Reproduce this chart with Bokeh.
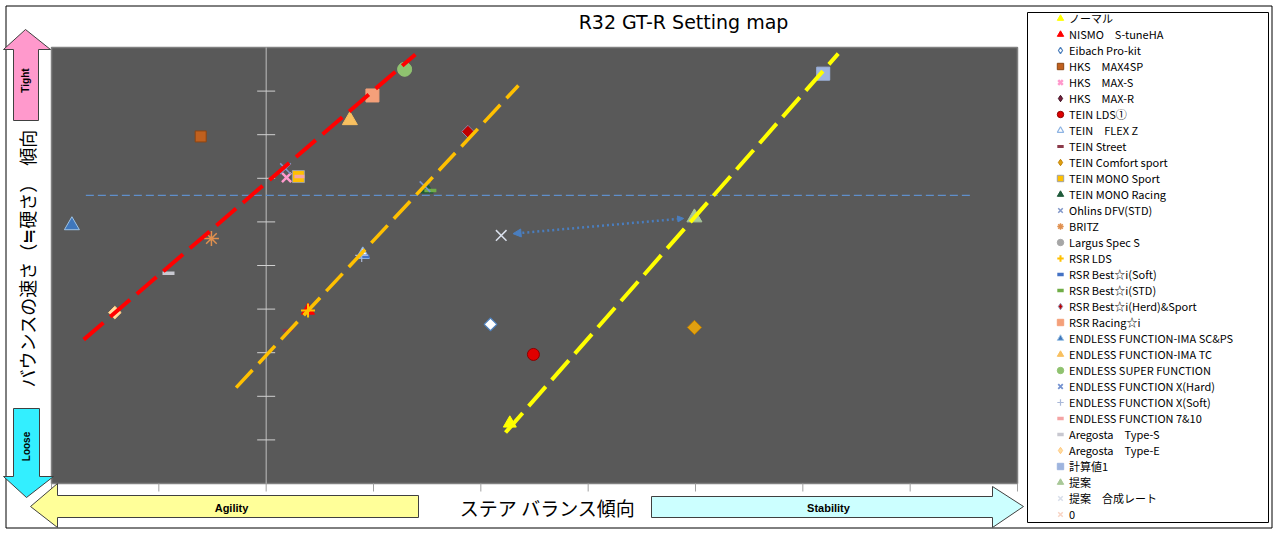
from bokeh.plotting import figure
from bokeh.models import Range1d, Arrow, NormalHead
from bokeh.core.properties import value
from bokeh.embed import file_html
from bokeh.resources import INLINE
import numpy as np

# ---------------- data ----------------
x_ticks = [-2, -1, 0, 1, 2, 3, 4, 5, 6, 7]
y_ticks = [0, 1, 2, 3, 4, 5, 6, 7, 8, 9, 10]

series_names = [
    "ノーマル", "NISMO　S-tuneHA", "Eibach Pro-kit", "HKS　MAX4SP", "HKS　MAX-S",
    "HKS　MAX-R", "TEIN LDS①", "TEIN　FLEX Z", "TEIN Street", "TEIN Comfort sport",
    "TEIN MONO Sport", "TEIN MONO Racing", "Ohlins DFV(STD)", "BRITZ", "Largus Spec S",
    "RSR LDS", "RSR Best☆i(Soft)", "RSR Best☆i(STD)", "RSR Best☆i(Herd)&Sport", "RSR Racing☆i",
    "ENDLESS FUNCTION-IMA SC&PS", "ENDLESS FUNCTION-IMA TC", "ENDLESS SUPER FUNCTION",
    "ENDLESS FUNCTION X(Hard)", "ENDLESS FUNCTION X(Soft)", "ENDLESS FUNCTION 7&10",
    "Aregosta　Type-S", "Aregosta　Type-E", "計算値1", "提案", "提案　合成レート", "0",
]
series_x = [2.27, 0.39, 2.09, -0.61, 0.19, 1.88, 2.49, 0.90, 0.20, 3.99,
            0.30, 1.50, 0.18, -0.51, 1.29, 0.39, 0.92, 1.53, 1.88, 0.99,
            -1.81, 0.78, 1.29, 1.48, 0.89, 0.31, -0.91, -1.41, 5.19, 3.99, 2.19, np.nan]
series_y = [1.38, 3.97, 3.65, 7.96, 7.02, 8.07, 2.96, 5.25, 3.51, 3.58,
            7.04, 6.74, 7.22, 5.62, 9.50, 3.97, 5.21, 6.72, 8.07, 8.90,
            5.92, 8.33, 9.50, 6.81, 5.23, 7.04, 4.82, 3.92, 9.40, 6.10, 5.69, np.nan]

red_line_x = [-1.70, 1.39]
red_line_y = [3.30, 9.84]
orange_line_x = [-0.28, 2.35]
orange_line_y = [2.20, 9.13]
yellow_line_x = [2.23, 5.33]
yellow_line_y = [1.17, 9.86]
ref_line_x = [-1.68, 6.56]
ref_line_y = [6.61, 6.61]
move_x = [3.89, 2.30]
move_y = [6.08, 5.73]

# ---------------- styles ----------------
D = "diamond"
markers = ["triangle", "triangle", D, "square", "x", D, "circle", "triangle", "dash", D,
           "square", "triangle", "x", "asterisk", "circle", "cross", "dash", "dash", D, "square",
           "triangle", "triangle", "circle", "x", "cross", "dash", "dash", D, "square", "triangle", "x", "x"]
fills = ["#FFFF00", "#FF0000", "#FFFFFF", "#C0601E", "#FF99CC", "#7A1F3D", "#E00000", "#FFFFFF", "#8B3A4A", "#E0A010",
         "#FFC000", "#1F5A3A", "#8096C8", "#E0904F", "#A6A6A6", "#FFC000", "#4472C4", "#70AD47", "#C00000", "#F4A07A",
         "#3F77BC", "#F8C060", "#8FC26F", "#7492D0", "#A9B8D8", "#F4A4A4", "#C8C8D0", "#FFDEA0", "#9EB4DE", "#A8C898",
         "#D8DEEA", "#F8D4C4"]
lines = ["#FFFF00", "#FF0000", "#4F81BD", "#8B4513", "#FF99CC", "#3A1020", "#8B0000", "#8EB4E3", "#8B3A4A", "#C08000",
         "#A0A0A0", "#1F5A3A", "#8096C8", "#E0904F", "#A6A6A6", "#FFC000", "#4472C4", "#70AD47", "#9090B0", "#F4A07A",
         "#9DC3E6", "#F8C060", "#8FC26F", "#7492D0", "#A9B8D8", "#F4A4A4", "#C8C8D0", "#FFC880", "#9EB4DE", "#A8C898",
         "#D8DEEA", "#F8D4C4"]
sizes = [13, 13, 9, 11, 13, 9, 12, 13, 10, 10,
         12, 12, 15, 15, 13, 14, 9, 12, 9, 13,
         15, 15, 14, 15, 13, 10, 12, 9, 13, 15, 15, 12]
widths = [1, 1, 1.2, 1, 2.5, 1, 1, 1.2, 3, 1,
          1, 1, 1.5, 1.5, 1, 2, 3.5, 3.5, 1, 1,
          1, 1, 1, 1.8, 1.2, 3.5, 3.5, 1, 1, 1, 1.5, 1.5]

# ---------------- layout mapping (canvas pixels -> data) ----------------
W, H = 1277, 534
SX = (1017 - 51) / 9.0
SY = (483 - 47) / 10.0
X0PAGE = 51 + 2 * SX


def px(v):
    return (v - X0PAGE) / SX


def py(v):
    return (483 - v) / SY


p = figure(width=W, height=H, x_range=Range1d(px(0), px(W)), y_range=Range1d(py(H), py(0)),
           x_axis_type=None, y_axis_type=None, toolbar_location=None, output_backend="svg", min_border=0)
p.outline_line_color = None
p.background_fill_color = "white"
p.border_fill_color = "white"

JP = value("Noto Sans CJK JP")

# outer border and legend box
p.quad(left=px(5.5), right=px(1271.5), top=py(5.5), bottom=py(527.5), fill_color=None, line_color="black", line_width=1)
p.quad(left=px(1027), right=px(1268), top=py(12), bottom=py(522), fill_color="white", line_color="black", line_width=1)

# plot area
p.quad(left=x_ticks[0], right=x_ticks[-1], bottom=y_ticks[0], top=y_ticks[-1],
       fill_color="#595959", line_color="#808080", line_width=1.5)

# vertical axis at x=0 with ticks
p.segment(x0=[0], y0=[y_ticks[0]], x1=[0], y1=[y_ticks[-1]], line_color="#BFBFBF", line_width=1)
p.segment(x0=[-9 / SX] * len(y_ticks[1:-1]), y0=y_ticks[1:-1], x1=[9 / SX] * len(y_ticks[1:-1]), y1=y_ticks[1:-1],
          line_color="#D0D0D0", line_width=1)
# bottom axis ticks
p.segment(x0=x_ticks, y0=[y_ticks[0]] * len(x_ticks), x1=x_ticks, y1=[y_ticks[0] - 8 / SY] * len(x_ticks),
          line_color="#A0A0A0", line_width=1)

# markers (diamonds drawn as rotated squares; legend uses a diamond proxy)
for i, name in enumerate(series_names):
    style = dict(fill_color=fills[i], line_color=lines[i], line_width=widths[i])
    if markers[i] == D:
        p.scatter([series_x[i]], [series_y[i]], marker="square", angle=np.pi / 4, size=sizes[i], **style)
        p.scatter([np.nan], [np.nan], marker="diamond", size=sizes[i], legend_label=name, **style)
    else:
        p.scatter([series_x[i]], [series_y[i]], marker=markers[i], size=sizes[i], legend_label=name, **style)

# reference and trend lines
p.line(ref_line_x, ref_line_y, line_color="#5F8FCB", line_width=1.3, line_dash="8 4")
p.line(red_line_x, red_line_y, line_color="#FF0000", line_width=4, line_dash="26 9")
p.line(orange_line_x, orange_line_y, line_color="#FFC000", line_width=3.5, line_dash="24 9")
p.line(yellow_line_x, yellow_line_y, line_color="#FFFF00", line_width=4, line_dash="26 9")
mc = "#4A7EBF"
p.add_layout(Arrow(end=NormalHead(size=8, fill_color=mc, line_color=mc),
                   start=NormalHead(size=6, fill_color=mc, line_color=mc),
                   x_start=move_x[0], y_start=move_y[0], x_end=move_x[1], y_end=move_y[1],
                   line_color=mc, line_width=2.5, line_dash="2 3"))


def arrow_patch(pts, fill):
    p.patch([px(a) for a, b in pts], [py(b) for a, b in pts], fill_color=fill, line_color="#404040", line_width=1)


arrow_patch([(25, 29), (50, 49), (38, 49), (38, 120), (13, 120), (13, 49), (3, 49)], "#FF99CC")
arrow_patch([(13, 408), (39, 408), (39, 476), (53, 476), (26, 497), (3, 476), (13, 476)], "#33EFFF")
arrow_patch([(30, 506), (57, 483), (57, 495), (418, 495), (418, 517), (57, 517), (57, 527)], "#FFFF99")
arrow_patch([(651, 496), (992, 496), (992, 486), (1023, 506), (992, 527), (992, 517), (651, 517)], "#CCFFFF")

# texts
p.text(x=[px(683)], y=[py(21)], text=["R32 GT-R Setting map"], text_font=value("DejaVu Sans"),
       text_font_size=value("19px"), text_align="center", text_baseline="middle", text_color="black")
p.text(x=[px(547)], y=[py(507)], text=["ステア バランス傾向"], text_font=JP, text_font_size=value("19px"),
       text_align="center", text_baseline="middle", text_color="black")
p.text(x=[px(26)], y=[py(258)], text=["バウンスの速さ（≒硬さ）　傾向"], text_font=JP, text_font_size=value("18px"),
       text_align="center", text_baseline="middle", text_color="black", angle=np.pi / 2)
BOLD = value("Liberation Sans")
p.text(x=[px(25)], y=[py(80)], text=["Tight"], text_font=BOLD, text_font_size=value("10px"), text_font_style="bold",
       text_align="center", text_baseline="middle", angle=np.pi / 2)
p.text(x=[px(26)], y=[py(446)], text=["Loose"], text_font=BOLD, text_font_size=value("10px"), text_font_style="bold",
       text_align="center", text_baseline="middle", angle=np.pi / 2)
p.text(x=[px(231)], y=[py(507)], text=["Agility"], text_font=BOLD, text_font_size=value("11px"), text_font_style="bold",
       text_align="center", text_baseline="middle")
p.text(x=[px(828)], y=[py(507)], text=["Stability"], text_font=BOLD, text_font_size=value("11px"), text_font_style="bold",
       text_align="center", text_baseline="middle")

# legend
lg = p.legend[0]
lg.location = (1051, 12)
lg.padding = 0
lg.margin = 0
lg.spacing = 0
lg.glyph_height = 16
lg.glyph_width = 18
lg.label_height = 16
lg.label_standoff = 0
lg.label_text_font = "Noto Sans CJK JP"
lg.label_text_font_size = "11px"
lg.label_text_color = "black"
lg.border_line_alpha = 0
lg.background_fill_alpha = 0

open("out.html", "w").write(file_html(p, INLINE))
